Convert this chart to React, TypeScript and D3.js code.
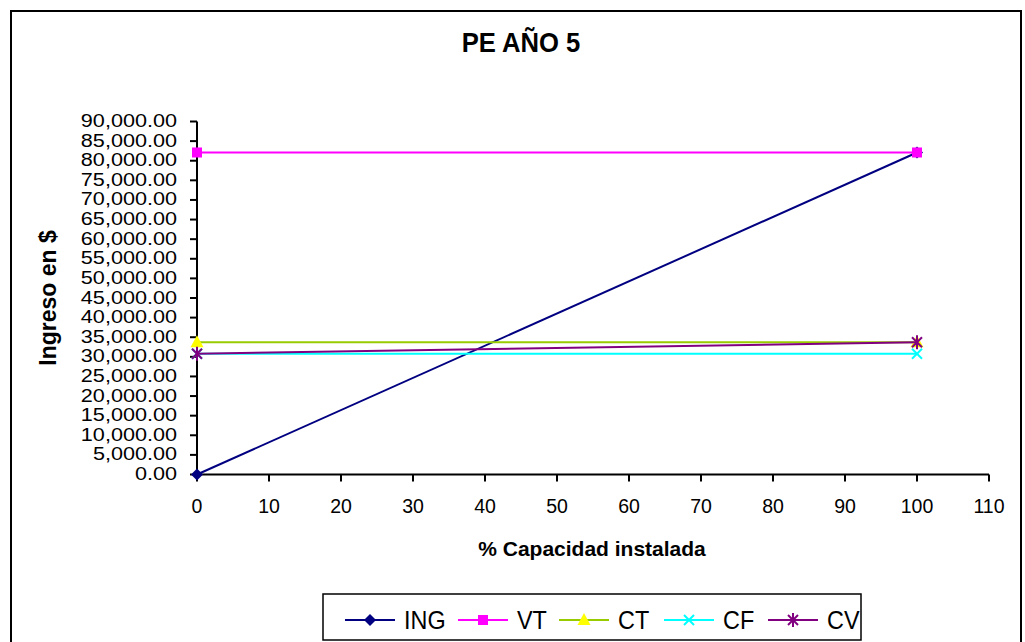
import React from 'react';
import * as d3 from 'd3';

// ---- data ----
const xValues = [0, 100];
const ingValues = [0, 82100];
const vtValues = [82100, 82100];
const ctValues = [33700, 33700];
const cfValues = [30800, 30800];
const cvValues = [30800, 33700];
const seriesNames = ['ING', 'VT', 'CT', 'CF', 'CV'];
const xTickValues = [0, 10, 20, 30, 40, 50, 60, 70, 80, 90, 100, 110];
const yTickValues = [0, 5000, 10000, 15000, 20000, 25000, 30000, 35000, 40000, 45000, 50000, 55000, 60000, 65000, 70000, 75000, 80000, 85000, 90000];
const chartTitle = 'PE AÑO 5';
const xTitle = '% Capacidad instalada';
const yTitle = 'Ingreso en $';

type MarkerKind = 'diamond' | 'square' | 'triangle' | 'x' | 'star';
const styles: { line: string; fill: string; stroke: string; marker: MarkerKind }[] = [
  { line: '#000080', fill: '#000080', stroke: '#000080', marker: 'diamond' },
  { line: '#FF00FF', fill: '#FF00FF', stroke: '#FF00FF', marker: 'square' },
  { line: '#99CC00', fill: '#FFFF00', stroke: '#FFFF00', marker: 'triangle' },
  { line: '#00FFFF', fill: 'none', stroke: '#00FFFF', marker: 'x' },
  { line: '#800080', fill: 'none', stroke: '#800080', marker: 'star' },
];
const seriesValues = [ingValues, vtValues, ctValues, cfValues, cvValues];

const FONT = 'Arial, "Liberation Sans", Helvetica, sans-serif';

function Marker({ kind, x, y, fill, stroke }: { kind: MarkerKind; x: number; y: number; fill: string; stroke: string }) {
  switch (kind) {
    case 'diamond':
      return <path d={`M${x},${y - 6}L${x + 6},${y}L${x},${y + 6}L${x - 6},${y}Z`} fill={fill} />;
    case 'square':
      return <rect x={x - 5} y={y - 5} width={10} height={10} fill={fill} />;
    case 'triangle':
      return <path d={`M${x},${y - 7}L${x + 6.5},${y + 5}L${x - 6.5},${y + 5}Z`} fill={fill} />;
    case 'x':
      return (
        <g stroke={stroke} strokeWidth={2}>
          <line x1={x - 5} y1={y - 5} x2={x + 5} y2={y + 5} />
          <line x1={x - 5} y1={y + 5} x2={x + 5} y2={y - 5} />
        </g>
      );
    case 'star':
      return (
        <g stroke={stroke} strokeWidth={2}>
          <line x1={x - 5} y1={y - 5} x2={x + 5} y2={y + 5} />
          <line x1={x - 5} y1={y + 5} x2={x + 5} y2={y - 5} />
          <line x1={x} y1={y - 7} x2={x} y2={y + 7} />
        </g>
      );
  }
  return null;
}

export default function App() {
  const W = 1025;
  const H = 642;
  const x = d3.scaleLinear().domain([0, 110]).range([197, 989]);
  const y = d3.scaleLinear().domain([0, 90000]).range([474.5, 121.5]);
  const fmt = d3.format(',.2f');
  const lineGen = d3
    .line<[number, number]>()
    .x((d) => x(d[0]))
    .y((d) => y(d[1]));

  const legendX = 323;
  const legendY = 594;
  const legendW = 538;
  const legendH = 46;
  const legendMid = 620;
  const legendLineStarts = [345, 458, 559, 664, 768];

  return (
    <svg width={W} height={H} style={{ position: 'absolute', left: 0, top: 0 }} fontFamily={FONT}>
      <rect x={0} y={0} width={W} height={H} fill="#fff" />
      <rect x={11} y={11} width={1010} height={H} fill="none" stroke="#000" strokeWidth={2} />
      <g transform="translate(521,52) scale(0.95,1)">
        <text x={0} y={0} textAnchor="middle" fontSize={27} fontWeight="bold">
          {chartTitle}
        </text>
      </g>

      {/* y axis */}
      <line x1={x(0)} y1={y(0)} x2={x(0)} y2={y(90000)} stroke="#000" strokeWidth={2} />
      {yTickValues.map((v) => (
        <g key={'yt' + v}>
          <line x1={x(0) - 7} x2={x(0)} y1={y(v)} y2={y(v)} stroke="#000" strokeWidth={2} />
          <g transform={`translate(177,${y(v) + 5.5}) scale(1.15,1)`}>
            <text x={0} y={0} textAnchor="end" fontSize={18.8}>
              {fmt(v)}
            </text>
          </g>
        </g>
      ))}

      {/* x axis */}
      <line x1={x(0)} y1={y(0)} x2={x(110)} y2={y(0)} stroke="#000" strokeWidth={2} />
      {xTickValues.map((v) => (
        <g key={'xt' + v}>
          <line x1={x(v)} x2={x(v)} y1={y(0)} y2={y(0) + 7} stroke="#000" strokeWidth={2} />
          <text x={x(v)} y={513} textAnchor="middle" fontSize={19.5}>
            {v}
          </text>
        </g>
      ))}

      <text x={592} y={556} textAnchor="middle" fontSize={21} fontWeight="bold">
        {xTitle}
      </text>
      <text transform="translate(56,298) rotate(-90)" textAnchor="middle" fontSize={23} fontWeight="bold">
        {yTitle}
      </text>

      {/* series */}
      {seriesValues.map((vals, i) => {
        const pts = xValues.map((xv, j) => [xv, vals[j]] as [number, number]);
        const st = styles[i];
        return (
          <g key={'s' + i}>
            <path d={lineGen(pts) || ''} fill="none" stroke={st.line} strokeWidth={2} />
            {pts.map((p, j) => (
              <Marker key={j} kind={st.marker} x={x(p[0])} y={y(p[1])} fill={st.fill} stroke={st.stroke} />
            ))}
          </g>
        );
      })}

      {/* legend */}
      <rect x={legendX} y={legendY} width={legendW} height={legendH} fill="#fff" stroke="#000" strokeWidth={1.5} />
      {seriesNames.map((name, i) => {
        const st = styles[i];
        const lx = legendLineStarts[i];
        return (
          <g key={'lg' + i}>
            <line x1={lx} x2={lx + 50} y1={legendMid} y2={legendMid} stroke={st.line} strokeWidth={2} />
            <Marker kind={st.marker} x={lx + 25} y={legendMid} fill={st.fill} stroke={st.stroke} />
            <g transform={`translate(${lx + 59},629) scale(0.9,1)`}>
              <text x={0} y={0} fontSize={26}>
                {name}
              </text>
            </g>
          </g>
        );
      })}
    </svg>
  );
}
